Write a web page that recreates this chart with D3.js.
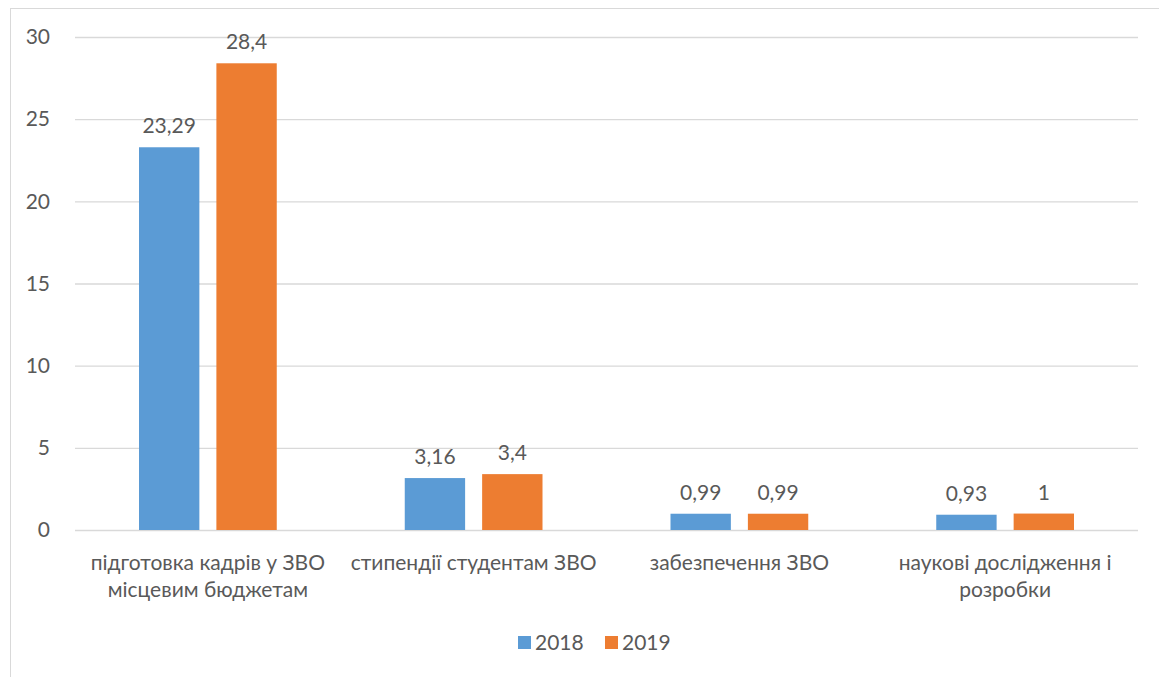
<!DOCTYPE html>
<html>
<head>
<meta charset="utf-8">
<script src="https://cdn.jsdelivr.net/npm/d3@7"></script>
<style>
  body { margin: 0; background: #fff; }
  text { font-family: Lato, "Noto Sans", sans-serif; fill: #595959; }
</style>
</head>
<body>
<div id="chart"></div>
<script>
// Data
const categories = [
    ["підготовка кадрів у ЗВО", "місцевим бюджетам"],
    ["стипендії студентам ЗВО"],
    ["забезпечення ЗВО"],
    ["наукові дослідження і", "розробки"]
];
const series = ["2018", "2019"];
const values2018 = [23.29, 3.16, 0.99, 0.93];
const values2019 = [28.4, 3.4, 0.99, 1];
const yTicks = [0, 5, 10, 15, 20, 25, 30];
const colors = ["#5b9bd5", "#ed7d31"];

const width = 1159, height = 677;
const plot = {left: 75, right: 1138, top: 37, bottom: 530};
const fs = 21;

const svg = d3.select("#chart")
    .append("svg")
    .attr("width", width)
    .attr("height", height);

// chart border
svg.append("rect")
    .attr("x", 10.5).attr("y", 8.5)
    .attr("width", 1160).attr("height", 700)
    .attr("fill", "none")
    .attr("stroke", "#d9d9d9");

const x = d3.scaleBand()
    .domain(d3.range(categories.length))
    .range([plot.left, plot.right]);
const xs = d3.scaleBand()
    .domain(series)
    .range([64, x.bandwidth() - 64])
    .paddingInner(0.22);
const y = d3.scaleLinear()
    .domain([0, 30])
    .range([plot.bottom, plot.top]);

// gridlines + y labels
const yAxis = svg.append("g")
    .attr("transform", `translate(${plot.left},0)`)
    .call(d3.axisLeft(y).tickValues(yTicks).tickSize(-(plot.right - plot.left)).tickPadding(25));
yAxis.select(".domain").remove();
yAxis.selectAll(".tick line").attr("stroke", "#d9d9d9").attr("stroke-width", 1.3);
yAxis.selectAll(".tick text")
    .attr("font-size", fs)
    .style("font-family", "Lato, 'Noto Sans', sans-serif")
    .attr("fill", "#595959");

const rows = categories.map((c, i) => ({i, vals: [values2018[i], values2019[i]]}));

const groups = svg.selectAll(".grp")
    .data(rows)
    .enter().append("g")
    .attr("transform", d => `translate(${x(d.i)},0)`);

groups.selectAll("rect")
    .data(d => d.vals.map((v, k) => ({s: series[k], v, k})))
    .enter().append("rect")
    .attr("x", d => xs(d.s))
    .attr("width", xs.bandwidth())
    .attr("y", d => y(d.v))
    .attr("height", d => y(0) - y(d.v))
    .attr("fill", d => colors[d.k]);

groups.selectAll(".lbl")
    .data(d => d.vals.map((v, k) => ({s: series[k], v, k})))
    .enter().append("text")
    .attr("x", d => xs(d.s) + xs.bandwidth() / 2)
    .attr("y", d => y(d.v) - 14)
    .attr("text-anchor", "middle")
    .attr("font-size", fs)
    .text(d => String(d.v).replace(".", ","));

// category labels
groups.each(function(d) {
    const t = d3.select(this).append("text")
        .attr("text-anchor", "middle")
        .attr("font-size", fs);
    categories[d.i].forEach((line, j) => {
        t.append("tspan")
            .attr("x", x.bandwidth() / 2)
            .attr("y", 570 + j * 27)
            .text(line);
    });
});

// legend
const legend = svg.append("g").attr("transform", "translate(518,643)");
series.forEach((s, k) => {
    const g = legend.append("g").attr("transform", `translate(${k * 87},0)`);
    g.append("rect").attr("x", 0).attr("y", -7).attr("width", 13).attr("height", 13).attr("fill", colors[k]);
    g.append("text").attr("x", 17).attr("y", 7).attr("font-size", fs).text(s);
});
</script>
</body>
</html>
